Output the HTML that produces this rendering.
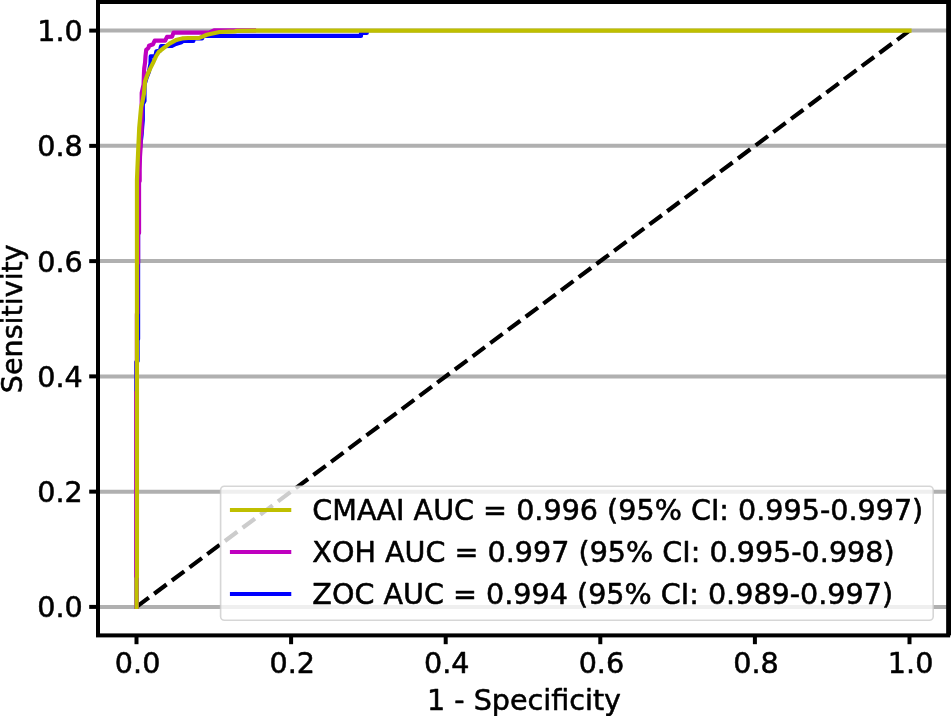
<!DOCTYPE html>
<html lang="en">
<head>
<meta charset="utf-8">
<title>ROC curves</title>
<style>
html,body{margin:0;padding:0;background:#fff;}
body{width:951px;height:716px;overflow:hidden;}
svg{display:block;}
</style>
</head>
<body>
<svg width="951" height="716" viewBox="0 0 951 716" font-family="'DejaVu Sans', 'Liberation Sans', sans-serif" font-size="28.6px" fill="#000">
<style>text{font-kerning:none;stroke:#000;stroke-width:0.55px;stroke-linejoin:round;}</style>
<rect x="0" y="0" width="951" height="716" fill="#fff"/>
<line x1="98.0" x2="948.15" y1="606.90" y2="606.90" stroke="#b0b0b0" stroke-width="4"/>
<line x1="98.0" x2="948.15" y1="491.64" y2="491.64" stroke="#b0b0b0" stroke-width="4"/>
<line x1="98.0" x2="948.15" y1="376.38" y2="376.38" stroke="#b0b0b0" stroke-width="4"/>
<line x1="98.0" x2="948.15" y1="261.12" y2="261.12" stroke="#b0b0b0" stroke-width="4"/>
<line x1="98.0" x2="948.15" y1="145.86" y2="145.86" stroke="#b0b0b0" stroke-width="4"/>
<line x1="98.0" x2="948.15" y1="30.60" y2="30.60" stroke="#b0b0b0" stroke-width="4"/>
<line x1="136.5" y1="606.9" x2="909.5" y2="30.6" stroke="#000" stroke-width="4.16" stroke-dasharray="15.404 6.661"/>
<polyline points="136.60,606.90 136.60,392.00 136.30,391.00 136.30,362.00 137.60,361.00 137.60,340.00 138.10,339.00 138.10,175.00 139.80,150.00 141.60,135.00 142.20,127.00 142.80,120.00 142.80,104.00 144.50,101.00 144.50,85.00 146.50,78.00 148.90,71.80 150.50,63.60 150.70,56.40 155.40,56.00 156.40,51.30 160.00,50.80 161.00,46.10 171.50,46.00 175.90,43.90 181.50,42.30 183.00,41.00 193.30,41.00 193.90,38.30 202.20,38.30 202.80,35.90 361.00,35.90 361.00,33.00 366.80,33.00 366.80,32.80" fill="none" stroke="#0000ff" stroke-width="4.16" stroke-linejoin="round" stroke-linecap="square"/>
<polyline points="136.60,606.90 136.60,578.00 136.20,577.00 136.20,392.00 136.90,391.00 136.90,314.00 137.40,313.00 137.40,264.00 138.10,263.00 138.10,234.00 139.05,233.00 139.05,182.00 139.70,181.00 139.70,170.00 140.00,156.50 140.70,146.00 140.70,137.00 141.60,131.00 141.70,93.00 143.60,84.40 143.90,74.90 144.20,68.60 145.10,62.30 145.50,56.00 146.20,49.90 148.40,48.00 149.00,45.80 153.10,44.20 154.70,40.70 165.10,40.70 167.00,36.90 172.10,36.60 173.60,32.50 209.00,32.60 214.00,30.30 254.00,30.30" fill="none" stroke="#bf00bf" stroke-width="4.16" stroke-linejoin="round" stroke-linecap="square"/>
<polyline points="136.60,606.90 136.60,578.00 136.95,577.00 136.95,180.00 137.35,170.00 138.20,150.00 139.20,128.00 141.10,107.00 142.60,101.00 143.90,93.90 144.50,87.50 145.10,81.20 147.35,74.90 150.20,68.60 153.30,62.30 156.20,56.00 158.80,51.80 164.50,47.30 169.50,43.60 175.90,40.10 182.20,38.40 188.50,38.00 199.40,37.85 206.90,34.80 219.50,32.00 234.70,31.35 237.20,30.90 256.00,30.60 909.50,30.60" fill="none" stroke="#bfbf00" stroke-width="4.16" stroke-linejoin="round" stroke-linecap="square"/>
<rect x="220.6" y="486.2" width="712.6" height="134.1" rx="3.8" ry="3.8" fill="#fff" fill-opacity="0.8" stroke="#ccc" stroke-opacity="0.8" stroke-width="1.6"/>
<line x1="232" x2="289.2" y1="510.00" y2="510.00" stroke="#bfbf00" stroke-width="4.16" stroke-linecap="square"/>
<text x="312.3" y="520.10">CMAAI AUC = 0.996 (95% CI: 0.995-0.997)</text>
<line x1="232" x2="289.2" y1="552.00" y2="552.00" stroke="#bf00bf" stroke-width="4.16" stroke-linecap="square"/>
<text x="312.3" y="562.10">XOH AUC = 0.997 (95% CI: 0.995-0.998)</text>
<line x1="232" x2="289.2" y1="594.00" y2="594.00" stroke="#0000ff" stroke-width="4.16" stroke-linecap="square"/>
<text x="312.3" y="604.10">ZOC AUC = 0.994 (95% CI: 0.989-0.997)</text>
<rect x="98.0" y="2.0" width="850.15" height="633.4" fill="none" stroke="#000" stroke-width="4"/>
<rect x="949.5" y="0" width="1.5" height="635.4" fill="#000"/>
<line x1="136.50" x2="136.50" y1="635.4" y2="644.1999999999999" stroke="#000" stroke-width="4"/>
<line x1="89.2" x2="98.0" y1="606.90" y2="606.90" stroke="#000" stroke-width="4"/>
<text x="137.60" y="673" text-anchor="middle">0.0</text>
<text x="82.7" y="617.30" text-anchor="end">0.0</text>
<line x1="291.10" x2="291.10" y1="635.4" y2="644.1999999999999" stroke="#000" stroke-width="4"/>
<line x1="89.2" x2="98.0" y1="491.64" y2="491.64" stroke="#000" stroke-width="4"/>
<text x="292.20" y="673" text-anchor="middle">0.2</text>
<text x="82.7" y="502.04" text-anchor="end">0.2</text>
<line x1="445.70" x2="445.70" y1="635.4" y2="644.1999999999999" stroke="#000" stroke-width="4"/>
<line x1="89.2" x2="98.0" y1="376.38" y2="376.38" stroke="#000" stroke-width="4"/>
<text x="446.80" y="673" text-anchor="middle">0.4</text>
<text x="82.7" y="386.78" text-anchor="end">0.4</text>
<line x1="600.30" x2="600.30" y1="635.4" y2="644.1999999999999" stroke="#000" stroke-width="4"/>
<line x1="89.2" x2="98.0" y1="261.12" y2="261.12" stroke="#000" stroke-width="4"/>
<text x="601.40" y="673" text-anchor="middle">0.6</text>
<text x="82.7" y="271.52" text-anchor="end">0.6</text>
<line x1="754.90" x2="754.90" y1="635.4" y2="644.1999999999999" stroke="#000" stroke-width="4"/>
<line x1="89.2" x2="98.0" y1="145.86" y2="145.86" stroke="#000" stroke-width="4"/>
<text x="756.00" y="673" text-anchor="middle">0.8</text>
<text x="82.7" y="156.26" text-anchor="end">0.8</text>
<line x1="909.50" x2="909.50" y1="635.4" y2="644.1999999999999" stroke="#000" stroke-width="4"/>
<line x1="89.2" x2="98.0" y1="30.60" y2="30.60" stroke="#000" stroke-width="4"/>
<text x="910.60" y="673" text-anchor="middle">1.0</text>
<text x="82.7" y="41.00" text-anchor="end">1.0</text>
<text x="524" y="709.7" text-anchor="middle">1 - Specificity</text>
<text transform="translate(21.8 318.7) rotate(-90)" text-anchor="middle">Sensitivity</text>
</svg>
</body>
</html>
